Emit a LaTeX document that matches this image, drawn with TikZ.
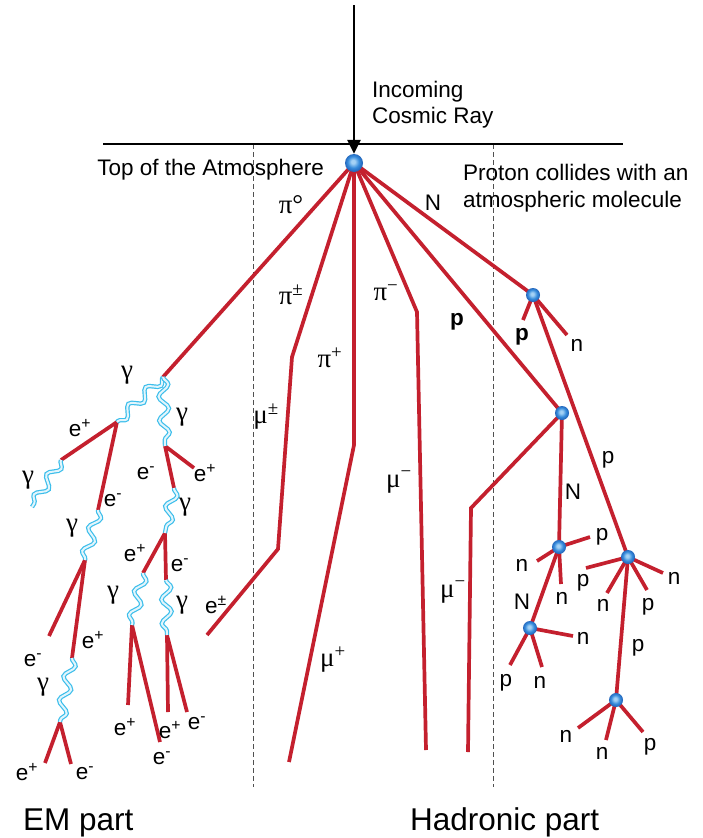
\documentclass[tikz,border=0pt]{standalone}
\usepackage{fontspec}
\setmainfont{Liberation Sans}
\newfontfamily\grk{Liberation Serif}
\usetikzlibrary{arrows.meta,decorations.pathmorphing}

\definecolor{trackred}{RGB}{196,32,46}
\definecolor{photonblue}{RGB}{60,190,235}
\definecolor{ballblue}{RGB}{55,140,220}
\definecolor{ballhi}{RGB}{165,210,245}
\definecolor{ballrim}{RGB}{35,100,185}
\definecolor{dashgray}{RGB}{80,80,80}

% sphere shading with a soft highlight slightly up and left of centre
\pgfdeclareradialshading{collision}{\pgfpoint{-3bp}{4bp}}{%
  color(0bp)=(ballhi); color(5bp)=(ballhi);
  color(16bp)=(ballblue); color(25bp)=(ballrim); color(50bp)=(ballrim)}

\newcommand\up[1]{\textsuperscript{#1}}

\tikzset{
  track/.style={draw=trackred, line width=3.7pt},
  photon/.style={draw=photonblue, line width=1.2pt, double=photonblue!15,
    double distance=2pt, decorate,
    decoration={snake, segment length=24pt, amplitude=5pt}},
  vertex/.style={circle, inner sep=0pt, minimum size=14pt, shading=collision},
  mainvertex/.style={vertex, minimum size=18pt},
  lab/.style={inner sep=0pt, font=\fontsize{22.5}{24}\selectfont},
  blab/.style={lab, font=\fontsize{22.5}{24}\selectfont\bfseries},
  glab/.style={inner sep=0pt, font=\grk\fontsize{27}{28}\selectfont},
  note/.style={inner sep=0pt, anchor=base west, font=\fontsize{22.5}{24}\selectfont},
  part/.style={inner sep=0pt, anchor=base west, font=\fontsize{31.5}{34}\selectfont},
  boundary/.style={draw=dashgray, line width=0.7pt, dash pattern=on 5pt off 3pt},
}

\begin{document}
\begin{tikzpicture}[x=1pt,y=-1pt]
\useasboundingbox (0,0) rectangle (702,838);
\fill[white] (0,0) rectangle (702,838);

% ---- frame: atmosphere line and region boundaries
\coordinate (src) at (354,5);
\coordinate (atmL) at (103,144);
\coordinate (atmR) at (623,144);
\coordinate (d1t) at (253,144);
\coordinate (d1b) at (253,787);
\coordinate (d2t) at (493,144);
\coordinate (d2b) at (493,787);
\draw[boundary] (d1t) -- (d1b);
\draw[boundary] (d2t) -- (d2b);
\draw[line width=1.8pt] (atmL) -- (atmR);

% ---- interaction points
\coordinate (V0) at (354,163);
\coordinate (S1) at (533,295);
\coordinate (S2) at (562,413);
\coordinate (S3) at (559,547);
\coordinate (S4) at (628,557);
\coordinate (S5) at (530,628);
\coordinate (S6) at (616,700);

% ---- hadronic and muon tracks
\coordinate (G1) at (163,377);
\coordinate (k1) at (292,357);
\coordinate (k2) at (278,549);
\coordinate (epm) at (207,635);
\coordinate (k3) at (354,445);
\coordinate (mup) at (289,762);
\coordinate (k4) at (417,312);
\coordinate (mum1) at (426,750);
\coordinate (k5) at (471,508);
\coordinate (mum2) at (468,752);

\draw[track] (V0) -- (G1);
\draw[track] (V0) -- (k1) -- (k2) -- (epm);
\draw[track] (V0) -- (k3) -- (mup);
\draw[track] (V0) -- (k4) -- (mum1);
\draw[track] (V0) -- (S2);
\draw[track] (V0) -- (S1);
\draw[track] (S2) -- (k5) -- (mum2);
\draw[track] (S1) -- (S4);
\draw[track] (S2) -- (S3);
\draw[track] (S3) -- (S5);
\draw[track] (S4) -- (S6);

% stubs from the secondary collisions
\coordinate (s1p) at (523,320);
\coordinate (s1n) at (567,335);
\coordinate (s3p) at (590,537);
\coordinate (s3nl) at (537,561);
\coordinate (s3nd) at (561,584);
\coordinate (s5n) at (573,636);
\coordinate (s5p) at (510,665);
\coordinate (s5n2) at (542,667);
\coordinate (s4p) at (586,568);
\coordinate (s4n) at (607,593);
\coordinate (s4p2) at (647,590);
\coordinate (s4n2) at (663,573);
\coordinate (s6n) at (578,728);
\coordinate (s6n2) at (606,740);
\coordinate (s6p) at (643,732);
\foreach \a/\b in {S1/s1p,S1/s1n,S3/s3p,S3/s3nl,S3/s3nd,S5/s5n,S5/s5p,S5/s5n2,
                   S4/s4p,S4/s4n,S4/s4p2,S4/s4n2,S6/s6n,S6/s6n2,S6/s6p}
  \draw[track] (\a) -- (\b);

% ---- electromagnetic cascade
\coordinate (A) at (117,422);
\coordinate (B) at (165,446);
\coordinate (C) at (61,460);
\coordinate (Cg) at (32,507);
\coordinate (D) at (98,510);
\coordinate (F) at (85,560);
\coordinate (Fe) at (49,636);
\coordinate (H) at (72,658);
\coordinate (I) at (60,722);
\coordinate (Ip) at (45,763);
\coordinate (Im) at (71,764);
\coordinate (Bp) at (194,468);
\coordinate (J) at (174,488);
\coordinate (K) at (165,533);
\coordinate (L) at (143,573);
\coordinate (M) at (166,580);
\coordinate (P) at (132,625);
\coordinate (Q) at (167,635);
\coordinate (Pp) at (128,705);
\coordinate (Pm) at (160,742);
\coordinate (Qp) at (168,712);
\coordinate (Qm) at (187,712);

\foreach \a/\b in {A/C,A/D,F/Fe,F/H,I/Ip,I/Im,B/Bp,B/J,K/L,K/M,P/Pp,P/Pm,Q/Qp,Q/Qm}
  \draw[track] (\a) -- (\b);
\foreach \a/\b in {G1/A,G1/B,C/Cg,D/F,H/I,J/K,L/P,M/Q}
  \draw[photon] (\a) -- (\b);

% ---- collision spheres
\node[mainvertex] (v0) at (V0) {};
\foreach \s in {S1,S2,S3,S4,S5,S6}
  \node[vertex] (\s v) at (\s) {};

% ---- incoming primary
\draw[line width=2.8pt, -{Triangle[length=14pt,width=13pt]}] (src) -- (v0.north);

% ---- captions
\node[note] (inc1) at (372,97) {Incoming};
\node[note] (inc2) at (372,123) {Cosmic Ray};
\node[note, anchor=base east] (toa) at (324,175) {Top of the Atmosphere};
\node[note] (pc1) at (463,180) {Proton collides with an};
\node[note] (pc2) at (463,207) {atmospheric molecule};
\node[part] (emp) at (23,830) {EM part};
\node[part] (hdp) at (410,830) {Hadronic part};

% ---- particle labels, central tracks
\node[glab] (lpi0) at (291,205) {π°};
\node[glab] (lpipm) at (291,295) {π\up{±}};
\node[glab] (lpip) at (330,358) {π\up{+}};
\node[glab] (lmupm) at (266,417) {μ\up{±}};
\node[glab] (lpim) at (386,293) {π\up{−}};
\node[glab] (lmum1) at (399,482) {μ\up{−}};
\node[glab] (lmup) at (333,660) {μ\up{+}};
\node[glab] (lmum2) at (453,592) {μ\up{−}};
\node[lab] (lepm) at (216,605) {e\up{±}};
\node[lab] (lN0) at (433,203) {N};
\node[blab] (lp0) at (457,322) {p};

% ---- particle labels, hadronic part
\node[blab] (lp1) at (522,337) {p};
\node[lab] (ln1) at (577,345) {n};
\node[lab] (lp2) at (608,460) {p};
\node[lab] (lN1) at (573,492) {N};
\node[lab] (lp3) at (602,537) {p};
\node[lab] (ln3) at (522,565) {n};
\node[lab] (ln4) at (562,598) {n};
\node[lab] (lN2) at (522,602) {N};
\node[lab] (ln5) at (583,638) {n};
\node[lab] (lp5) at (506,683) {p};
\node[lab] (ln6) at (540,682) {n};
\node[lab] (lp6) at (583,583) {p};
\node[lab] (ln7) at (603,605) {n};
\node[lab] (lp7) at (648,607) {p};
\node[lab] (ln8) at (674,578) {n};
\node[lab] (lp8) at (638,648) {p};
\node[lab] (ln9) at (566,736) {n};
\node[lab] (ln10) at (602,753) {n};
\node[lab] (lp9) at (650,747) {p};

% ---- particle labels, electromagnetic part
\node[glab] (g1) at (127,375) {γ};
\node[glab] (g2) at (182,417) {γ};
\node[lab] (e1) at (80,428) {e\up{+}};
\node[glab] (g3) at (28,480) {γ};
\node[lab] (e2) at (113,500) {e\up{-}};
\node[glab] (g4) at (72,528) {γ};
\node[lab] (e3) at (205,473) {e\up{+}};
\node[lab] (e4) at (146,473) {e\up{-}};
\node[glab] (g5) at (185,507) {γ};
\node[lab] (e5) at (135,553) {e\up{+}};
\node[lab] (e6) at (180,565) {e\up{-}};
\node[glab] (g6) at (113,595) {γ};
\node[glab] (g7) at (182,605) {γ};
\node[lab] (e7) at (33,660) {e\up{-}};
\node[lab] (e8) at (93,640) {e\up{+}};
\node[glab] (g8) at (43,687) {γ};
\node[lab] (e9) at (27,772) {e\up{+}};
\node[lab] (e10) at (85,773) {e\up{-}};
\node[lab] (e11) at (125,727) {e\up{+}};
\node[lab] (e12) at (162,758) {e\up{-}};
\node[lab] (e13) at (170,730) {e\up{+}};
\node[lab] (e14) at (197,723) {e\up{-}};
\end{tikzpicture}
\end{document}
